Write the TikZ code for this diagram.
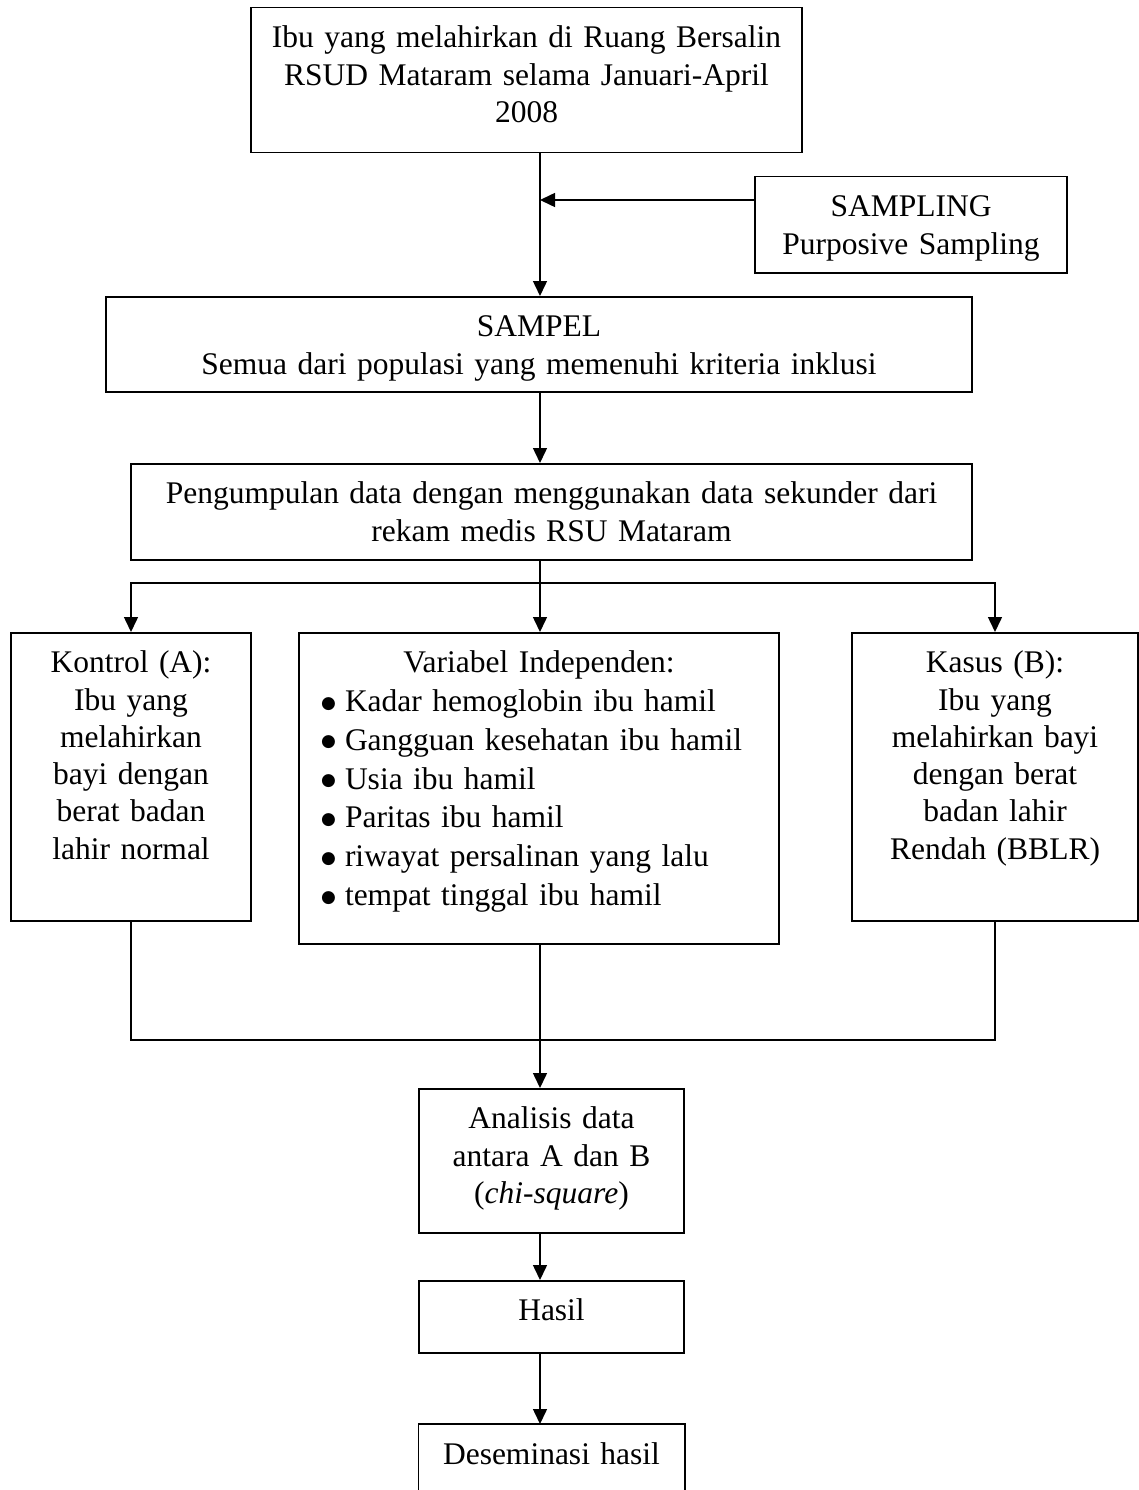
\documentclass[tikz,border=0pt]{standalone}
\usepackage{fontspec}
\setmainfont{Liberation Serif}
\newfontfamily\bulfont{DejaVu Sans}
\usetikzlibrary{arrows.meta}
\newcommand\bul[1]{\makebox[480pt][l]{\hspace*{22pt}\makebox[24pt][l]{\raisebox{3.5pt}{\bulfont\fontsize{17}{17}\selectfont ●}}#1}}
\begin{document}
\begin{tikzpicture}[x=1pt,y=-1pt,
  ln/.style={line width=1.5pt},
  bx/.style={draw, line width=1.5pt, inner sep=0pt, align=center, anchor=north,
    text height=40pt, font=\fontsize{31.5}{37.3}\selectfont},
  arr/.style={line width=1.5pt, -{Triangle[length=15pt,width=14pt]}}]
\path[use as bounding box, fill=white] (0,0) rectangle (1139,1490);

\node[bx, text width=551pt, text depth=105pt] (top) at (526.5,7)
  {Ibu yang melahirkan di Ruang Bersalin\\RSUD Mataram selama Januari-April\\2008};
\node[bx, text width=312pt, text depth=56pt] (sampling) at (911,176)
  {SAMPLING\\Purposive Sampling};
\node[bx, text width=866pt, text depth=55pt] (sampel) at (539,296)
  {SAMPEL\\Semua dari populasi yang memenuhi kriteria inklusi};
\node[bx, text width=841pt, text depth=56pt] (peng) at (551.5,463)
  {Pengumpulan data dengan menggunakan data sekunder dari\\rekam medis RSU Mataram};
\node[bx, text width=240pt, text depth=248pt] (kontrol) at (131,632)
  {Kontrol (A):\\Ibu yang\\melahirkan\\bayi dengan\\berat badan\\lahir normal};
\node[bx, text width=480pt, text depth=271pt, font=\fontsize{31.5}{38.8}\selectfont] (var) at (539,632)
  {Variabel Independen:\\
   \bul{Kadar hemoglobin ibu hamil}\\
   \bul{Gangguan kesehatan ibu hamil}\\
   \bul{Usia ibu hamil}\\
   \bul{Paritas ibu hamil}\\
   \bul{riwayat persalinan yang lalu}\\
   \bul{tempat tinggal ibu hamil}};
\node[bx, text width=286pt, text depth=248pt] (kasus) at (995,632)
  {Kasus (B):\\Ibu yang\\melahirkan bayi\\dengan berat\\badan lahir\\Rendah (BBLR)};
\node[bx, text width=265pt, text depth=104pt] (analisis) at (551.5,1088)
  {Analisis data\\antara A dan B\\(\textit{chi-square})};
\node[bx, text width=265pt, text depth=32pt] (hasil) at (551.5,1280)
  {Hasil};
\node[bx, draw=none, text width=265pt, text depth=26pt] (desem) at (551.5,1424)
  {Deseminasi hasil};
\draw[ln] (desem.south west) -- (desem.north west) -- (desem.north east) -- (desem.south east);

\coordinate (spine) at (540,0);
\coordinate (sj) at (540,200);
\coordinate (split) at (540,583);
\coordinate (merge) at (540,1040);

\draw[arr] (top.south -| spine) -- (sampel.north -| spine);
\draw[arr] (sj -| sampling.west) -- (sj);
\draw[arr] (sampel.south -| spine) -- (peng.north -| spine);
\draw[ln] (peng.south -| spine) -- (split);
\draw[arr] (split) -| (kontrol.north);
\draw[arr] (split) -| (kasus.north);
\draw[arr] (split) -- (var.north -| spine);
\draw[ln] (kontrol.south) |- (merge) -| (kasus.south);
\draw[arr] (var.south -| spine) -- (analisis.north -| spine);
\draw[arr] (analisis.south -| spine) -- (hasil.north -| spine);
\draw[arr] (hasil.south -| spine) -- (desem.north -| spine);
\end{tikzpicture}
\end{document}
